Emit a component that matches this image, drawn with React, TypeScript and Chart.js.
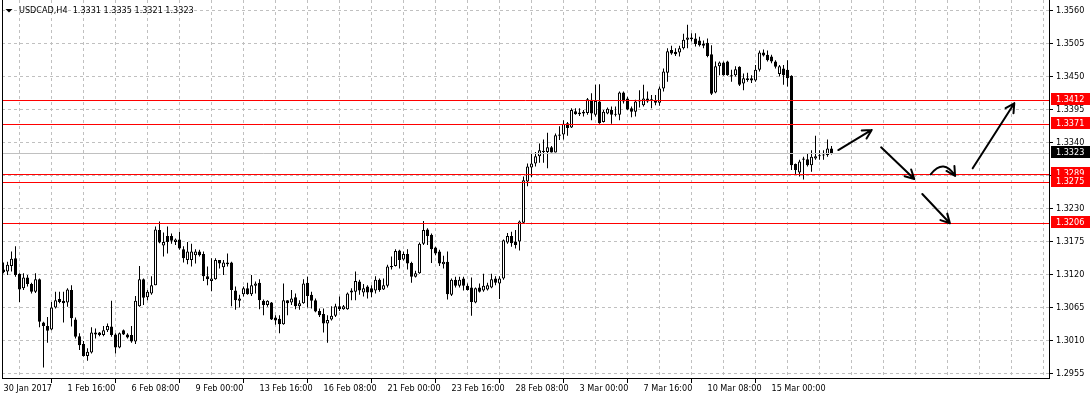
import React, { useEffect, useRef } from 'react';
import { Chart, registerables } from 'chart.js';

Chart.register(...registerables);

// ---- Data (USDCAD, H4) ----
const SYMBOL = 'USDCAD,H4';

const OPEN = [
  1.3129,1.3126,1.3135,1.3148,1.3122,1.3098,1.3116,1.3105,1.3092,1.3113,1.3041,1.3035,1.3029,1.3066,1.3080,1.3077,
  1.3074,1.3095,1.3046,1.3018,1.3005,1.2985,1.2991,1.3024,1.3024,1.3020,1.3028,1.3034,1.3021,1.2999,1.3028,1.3021,
  1.3020,1.3009,1.3068,1.3113,1.3083,1.3089,1.3103,1.3195,1.3169,1.3185,1.3185,1.3175,1.3179,1.3163,1.3145,1.3145,
  1.3153,1.3159,1.3155,1.3118,1.3110,1.3113,1.3145,1.3133,1.3138,1.3141,1.3094,1.3077,1.3088,1.3098,1.3088,1.3102,
  1.3107,1.3077,1.3070,1.3074,1.3049,1.3047,1.3038,1.3078,1.3074,1.3083,1.3068,1.3073,1.3107,1.3087,1.3078,1.3060,
  1.3055,1.3039,1.3046,1.3052,1.3068,1.3063,1.3063,1.3091,1.3092,1.3109,1.3091,1.3101,1.3098,1.3094,1.3112,1.3096,
  1.3102,1.3135,1.3135,1.3161,1.3146,1.3155,1.3140,1.3117,1.3123,1.3172,1.3196,1.3187,1.3166,1.3159,1.3138,1.3142,
  1.3087,1.3112,1.3102,1.3114,1.3102,1.3099,1.3074,1.3099,1.3094,1.3096,1.3099,1.3114,1.3106,1.3114,1.3174,1.3185,
  1.3176,1.3176,1.3207,1.3276,1.3299,1.3306,1.3318,1.3327,1.3325,1.3333,1.3324,1.3352,1.3354,1.3373,1.3366,1.3393,
  1.3388,1.3389,1.3390,1.3412,1.3387,1.3409,1.3375,1.3389,1.3395,1.3387,1.3387,1.3424,1.3414,1.3398,1.3392,1.3409,
  1.3403,1.3414,1.3413,1.3410,1.3407,1.3431,1.3457,1.3495,1.3492,1.3491,1.3498,1.3512,1.3513,1.3514,1.3511,1.3506,
  1.3507,1.3488,1.3424,1.3468,1.3474,1.3476,1.3453,1.3453,1.3467,1.3439,1.3448,1.3448,1.3444,1.3462,1.3491,1.3487,
  1.3484,1.3476,1.3455,1.3464,1.3462,1.3452,1.3305,1.3291,1.3312,1.3313,1.3303,1.3314,1.3318,1.3319,1.3320,1.3331,
];

const HIGH = [
  1.3141,1.3142,1.3159,1.3168,1.3123,1.3123,1.3120,1.3107,1.3123,1.3114,1.3042,1.3050,1.3075,1.3092,1.3092,1.3092,
  1.3098,1.3103,1.3049,1.3023,1.3010,1.2998,1.3033,1.3031,1.3025,1.3035,1.3039,1.3077,1.3023,1.3024,1.3029,1.3023,
  1.3035,1.3085,1.3135,1.3114,1.3095,1.3118,1.3201,1.3209,1.3191,1.3201,1.3189,1.3181,1.3192,1.3168,1.3175,1.3172,
  1.3163,1.3162,1.3159,1.3134,1.3148,1.3148,1.3145,1.3145,1.3156,1.3142,1.3101,1.3087,1.3101,1.3107,1.3120,1.3109,
  1.3113,1.3079,1.3078,1.3075,1.3053,1.3053,1.3106,1.3078,1.3095,1.3089,1.3078,1.3113,1.3117,1.3092,1.3081,1.3064,
  1.3064,1.3053,1.3068,1.3072,1.3084,1.3070,1.3091,1.3098,1.3126,1.3112,1.3105,1.3103,1.3103,1.3118,1.3114,1.3114,
  1.3137,1.3151,1.3163,1.3162,1.3159,1.3163,1.3142,1.3127,1.3174,1.3210,1.3198,1.3189,1.3167,1.3162,1.3152,1.3159,
  1.3114,1.3117,1.3117,1.3117,1.3106,1.3116,1.3099,1.3106,1.3122,1.3107,1.3122,1.3118,1.3118,1.3179,1.3190,1.3192,
  1.3195,1.3211,1.3284,1.3306,1.3323,1.3325,1.3339,1.3346,1.3357,1.3335,1.3356,1.3368,1.3378,1.3375,1.3398,1.3398,
  1.3398,1.3395,1.3415,1.3423,1.3437,1.3438,1.3395,1.3399,1.3401,1.3401,1.3426,1.3426,1.3417,1.3401,1.3412,1.3428,
  1.3437,1.3426,1.3420,1.3420,1.3434,1.3464,1.3498,1.3502,1.3498,1.3502,1.3522,1.3537,1.3523,1.3523,1.3517,1.3511,
  1.3514,1.3503,1.3476,1.3476,1.3476,1.3477,1.3462,1.3468,1.3468,1.3456,1.3457,1.3453,1.3470,1.3494,1.3496,1.3494,
  1.3487,1.3478,1.3470,1.3470,1.3478,1.3453,1.3306,1.3312,1.3317,1.3323,1.3328,1.3352,1.3328,1.3328,1.3346,1.3335,
];

const LOW = [
  1.3123,1.3120,1.3126,1.3117,1.3075,1.3095,1.3101,1.3089,1.3090,1.3033,1.2966,1.3007,1.3028,1.3064,1.3073,1.3041,
  1.3067,1.3034,1.3014,1.2995,1.2984,1.2977,1.2989,1.3014,1.3018,1.3018,1.3025,1.3017,1.2989,1.2998,1.3020,1.3014,
  1.3007,1.3005,1.3067,1.3070,1.3078,1.3087,1.3103,1.3173,1.3151,1.3156,1.3172,1.3170,1.3162,1.3141,1.3138,1.3134,
  1.3139,1.3151,1.3110,1.3103,1.3093,1.3112,1.3131,1.3120,1.3134,1.3068,1.3062,1.3066,1.3084,1.3087,1.3085,1.3089,
  1.3063,1.3053,1.3067,1.3045,1.3037,1.3023,1.3037,1.3053,1.3070,1.3063,1.3062,1.3072,1.3066,1.3064,1.3058,1.3050,
  1.3024,1.3007,1.3044,1.3050,1.3060,1.3062,1.3062,1.3078,1.3078,1.3087,1.3084,1.3081,1.3083,1.3089,1.3092,1.3095,
  1.3099,1.3129,1.3134,1.3131,1.3144,1.3129,1.3107,1.3116,1.3122,1.3170,1.3170,1.3140,1.3153,1.3135,1.3131,1.3079,
  1.3085,1.3099,1.3099,1.3094,1.3094,1.3052,1.3073,1.3091,1.3092,1.3094,1.3098,1.3103,1.3080,1.3112,1.3172,1.3167,
  1.3164,1.3161,1.3206,1.3268,1.3283,1.3301,1.3307,1.3307,1.3298,1.3324,1.3324,1.3345,1.3346,1.3352,1.3365,1.3387,
  1.3385,1.3384,1.3387,1.3378,1.3384,1.3372,1.3374,1.3388,1.3372,1.3384,1.3378,1.3406,1.3395,1.3383,1.3384,1.3399,
  1.3401,1.3407,1.3398,1.3403,1.3402,1.3426,1.3442,1.3487,1.3485,1.3484,1.3496,1.3498,1.3509,1.3501,1.3501,1.3498,
  1.3483,1.3420,1.3423,1.3453,1.3452,1.3452,1.3442,1.3451,1.3435,1.3428,1.3442,1.3440,1.3442,1.3459,1.3484,1.3476,
  1.3473,1.3464,1.3451,1.3437,1.3434,1.3295,1.3287,1.3284,1.3279,1.3301,1.3292,1.3312,1.3312,1.3312,1.3317,1.3321,
];

const CLOSE = [
  1.3125,1.3137,1.3147,1.3120,1.3096,1.3116,1.3105,1.3092,1.3113,1.3042,1.3035,1.3027,1.3066,1.3078,1.3075,1.3073,
  1.3096,1.3048,1.3017,1.3003,1.2985,1.2992,1.3024,1.3021,1.3020,1.3028,1.3035,1.3020,1.2999,1.3023,1.3021,1.3016,
  1.3009,1.3077,1.3113,1.3082,1.3092,1.3103,1.3196,1.3174,1.3175,1.3175,1.3177,1.3179,1.3164,1.3148,1.3159,1.3159,
  1.3159,1.3153,1.3118,1.3113,1.3114,1.3145,1.3139,1.3141,1.3141,1.3095,1.3078,1.3081,1.3098,1.3088,1.3103,1.3106,
  1.3078,1.3070,1.3077,1.3046,1.3044,1.3038,1.3078,1.3073,1.3081,1.3068,1.3073,1.3106,1.3085,1.3077,1.3059,1.3053,
  1.3039,1.3045,1.3052,1.3068,1.3063,1.3068,1.3089,1.3094,1.3110,1.3094,1.3098,1.3091,1.3091,1.3112,1.3095,1.3103,
  1.3134,1.3133,1.3160,1.3145,1.3155,1.3139,1.3117,1.3123,1.3172,1.3195,1.3185,1.3163,1.3156,1.3139,1.3142,1.3088,
  1.3112,1.3102,1.3112,1.3102,1.3095,1.3075,1.3098,1.3092,1.3102,1.3103,1.3113,1.3107,1.3114,1.3178,1.3185,1.3173,
  1.3170,1.3209,1.3278,1.3301,1.3306,1.3318,1.3328,1.3325,1.3333,1.3324,1.3353,1.3354,1.3372,1.3365,1.3395,1.3388,
  1.3391,1.3392,1.3413,1.3389,1.3410,1.3373,1.3392,1.3397,1.3387,1.3388,1.3424,1.3409,1.3396,1.3392,1.3409,1.3412,
  1.3414,1.3409,1.3410,1.3407,1.3431,1.3459,1.3493,1.3489,1.3488,1.3498,1.3512,1.3516,1.3516,1.3505,1.3503,1.3502,
  1.3485,1.3422,1.3468,1.3474,1.3453,1.3453,1.3451,1.3463,1.3437,1.3448,1.3445,1.3444,1.3462,1.3491,1.3486,1.3478,
  1.3476,1.3467,1.3468,1.3453,1.3448,1.3303,1.3295,1.3309,1.3314,1.3303,1.3317,1.3318,1.3319,1.3320,1.3331,1.3323,
];

// time labels, one every LABEL_STEP bars starting at bar 0
const X_LABELS = [
  '30 Jan 2017', '1 Feb 16:00', '6 Feb 08:00', '9 Feb 00:00', '13 Feb 16:00', '16 Feb 08:00',
  '21 Feb 00:00', '23 Feb 16:00', '28 Feb 08:00', '3 Mar 00:00', '7 Mar 16:00', '10 Mar 08:00', '15 Mar 00:00',
];
const LABEL_STEP = 16;
const GRID_STEP = 8;

const PRICE_TICKS = [1.2955, 1.3010, 1.3065, 1.3120, 1.3175, 1.3230, 1.3285, 1.3340, 1.3395, 1.3450, 1.3505, 1.3560];
const HIDDEN_PRICE_TICKS = [1.3285];

// horizontal levels (red) and bid line
const LEVELS = [1.3412, 1.3371, 1.3289, 1.3275, 1.3206];
const BID = 1.3323;

// hand-drawn arrows in (bar index, price)
const ARROWS = [
  [[208.7, 1.33283], [217.05, 1.33617]],
  [[219.4, 1.33328], [227.7, 1.32800]],
  [[242.3, 1.32978], [252.7, 1.34062]],
  [[229.7, 1.32550], [236.6, 1.32062]],
];
const CURVED_ARROW = { from: [231.8, 1.32878], ctrl: [235.1, 1.33150], to: [237.9, 1.32850] };

// ---- Styling ----
const FONT = "'DejaVu Sans Condensed', 'DejaVu Sans', sans-serif";
const FONT_SIZE = 9;
const GRID_COLOR = '#c0c0c0';
const TRANSPARENT = 'rgba(0,0,0,0)';
const HEAD_LEN = 10;
const HEAD_ANGLE = (28 * Math.PI) / 180;

const X_MIN = -0.375;
const X_MAX = 261.375;
const Y_MIN = 1.294833;
const Y_MAX = 1.357833;

const isLabelTick = (v: number) =>
  v % LABEL_STEP === 0 && v / LABEL_STEP < X_LABELS.length;

const overlayPlugin = {
  id: 'mt4Overlay',
  beforeDraw(chart: any) {
    const { ctx, width, height } = chart;
    ctx.save();
    ctx.fillStyle = '#ffffff';
    ctx.fillRect(0, 0, width, height);
    ctx.restore();
  },
  afterDatasetsDraw(chart: any) {
    const { ctx, chartArea: a, scales } = chart;
    const xs = scales.x;
    const ys = scales.y;
    ctx.save();
    ctx.lineWidth = 1;
    const hline = (p: number, color: string) => {
      const py = Math.round(ys.getPixelForValue(p)) + 0.5;
      ctx.strokeStyle = color;
      ctx.beginPath();
      ctx.moveTo(a.left, py);
      ctx.lineTo(a.right, py);
      ctx.stroke();
    };
    hline(BID, GRID_COLOR);
    LEVELS.forEach((l) => hline(l, '#ff0000'));

    const px = (pt: number[]) => [xs.getPixelForValue(pt[0]), ys.getPixelForValue(pt[1])];
    const head = (tip: number[], ang: number) => {
      for (const s of [-1, 1]) {
        const b = ang + Math.PI + s * HEAD_ANGLE;
        ctx.moveTo(tip[0], tip[1]);
        ctx.lineTo(tip[0] + HEAD_LEN * Math.cos(b), tip[1] + HEAD_LEN * Math.sin(b));
      }
    };
    ctx.strokeStyle = '#000';
    ctx.lineWidth = 2;
    ctx.lineCap = 'round';
    ctx.lineJoin = 'round';
    ARROWS.forEach(([f, t]) => {
      const p1 = px(f);
      const p2 = px(t);
      ctx.beginPath();
      ctx.moveTo(p1[0], p1[1]);
      ctx.lineTo(p2[0], p2[1]);
      head(p2, Math.atan2(p2[1] - p1[1], p2[0] - p1[0]));
      ctx.stroke();
    });
    const c1 = px(CURVED_ARROW.from);
    const cc = px(CURVED_ARROW.ctrl);
    const c2 = px(CURVED_ARROW.to);
    ctx.beginPath();
    ctx.moveTo(c1[0], c1[1]);
    ctx.quadraticCurveTo(cc[0], cc[1], c2[0], c2[1]);
    head(c2, Math.atan2(c2[1] - cc[1], c2[0] - cc[0]));
    ctx.stroke();
    ctx.restore();
  },
  afterDraw(chart: any) {
    const { ctx, chartArea: a, scales } = chart;
    const ys = scales.y;
    ctx.save();
    // left frame
    ctx.strokeStyle = '#000';
    ctx.lineWidth = 1;
    ctx.beginPath();
    ctx.moveTo(a.left + 0.5, 0);
    ctx.lineTo(a.left + 0.5, a.bottom + 0.5);
    ctx.stroke();

    // price boxes
    ctx.font = `${FONT_SIZE}px ${FONT}`;
    ctx.textBaseline = 'middle';
    ctx.textAlign = 'left';
    const box = (p: number, bg: string) => {
      const cy = Math.round(ys.getPixelForValue(p));
      ctx.fillStyle = bg;
      ctx.fillRect(a.right + 2, cy - 7, 39, 12);
      ctx.fillStyle = '#fff';
      ctx.fillText(p.toFixed(4), a.right + 7, cy - 0.5);
    };
    LEVELS.forEach((l) => box(l, '#ff0000'));
    box(BID, '#000');

    // header
    ctx.fillStyle = '#000';
    ctx.beginPath();
    ctx.moveTo(a.left + 3.5, 9);
    ctx.lineTo(a.left + 10.5, 9);
    ctx.lineTo(a.left + 7, 12.5);
    ctx.closePath();
    ctx.fill();
    const n = CLOSE.length - 1;
    const header = `${SYMBOL}  ${OPEN[n].toFixed(4)} ${HIGH[n].toFixed(4)} ${LOW[n].toFixed(4)} ${CLOSE[n].toFixed(4)}`;
    ctx.fillText(header, a.left + 17, 11);
    ctx.restore();
  },
};

export default function App() {
  const ref = useRef<HTMLCanvasElement | null>(null);

  useEffect(() => {
    if (!ref.current) return;
    Chart.defaults.font.family = FONT;
    Chart.defaults.font.size = FONT_SIZE;
    Chart.defaults.color = '#000';

    const idx = OPEN.map((_, i) => i);
    const gridTicks: { value: number }[] = [];
    for (let v = 0; v <= X_MAX; v += GRID_STEP) gridTicks.push({ value: v });

    const chart = new Chart(ref.current, {
      type: 'bar',
      data: {
        datasets: [
          {
            label: 'wicks',
            data: idx.map((i) => ({ x: i, y: [LOW[i], HIGH[i]] })) as any,
            backgroundColor: '#000',
            borderWidth: 0,
            barThickness: 1,
            inflateAmount: 0,
            minBarLength: 1,
            grouped: false,
            order: 2,
          } as any,
          {
            label: 'bodies',
            data: idx.map((i) => ({
              x: i,
              y: [Math.min(OPEN[i], CLOSE[i]), Math.max(OPEN[i], CLOSE[i])],
            })) as any,
            backgroundColor: idx.map((i) => (CLOSE[i] >= OPEN[i] ? '#ffffff' : '#000000')),
            borderColor: '#000',
            borderWidth: 1,
            borderSkipped: false,
            barThickness: 3,
            inflateAmount: 0,
            minBarLength: 1,
            grouped: false,
            order: 1,
          } as any,
        ],
      },
      options: {
        animation: false,
        responsive: false,
        maintainAspectRatio: false,
        devicePixelRatio: 1,
        events: [],
        layout: { padding: { left: 2, top: 0, right: 0, bottom: 0 } },
        plugins: { legend: { display: false }, tooltip: { enabled: false } },
        scales: {
          x: {
            type: 'linear',
            min: X_MIN,
            max: X_MAX,
            offset: false,
            afterBuildTicks: (s: any) => {
              s.ticks = gridTicks.map((t) => ({ ...t }));
            },
            afterFit: (s: any) => {
              s.height = 21;
              s.paddingLeft = 0;
              s.paddingRight = 0;
            },
            grid: {
              color: (c: any) => (c.tick && c.tick.value === 0 ? TRANSPARENT : GRID_COLOR),
              lineWidth: 1,
              drawTicks: true,
              tickLength: 5,
              tickWidth: 1,
              tickColor: (c: any) => (c.tick && isLabelTick(c.tick.value) ? '#000' : TRANSPARENT),
            },
            border: { display: true, color: '#000', width: 1, dash: [3, 3] },
            ticks: {
              autoSkip: false,
              maxRotation: 0,
              minRotation: 0,
              align: 'start',
              padding: 0,
              color: '#000',
              font: { family: FONT, size: FONT_SIZE },
              callback: (v: any) => (isLabelTick(v) ? X_LABELS[v / LABEL_STEP] : ''),
            },
          },
          y: {
            type: 'linear',
            position: 'right',
            min: Y_MIN,
            max: Y_MAX,
            afterBuildTicks: (s: any) => {
              s.ticks = PRICE_TICKS.map((v) => ({ value: v }));
            },
            afterFit: (s: any) => {
              s.width = 42;
              s.paddingTop = 0;
              s.paddingBottom = 0;
            },
            grid: {
              color: GRID_COLOR,
              lineWidth: 1,
              drawTicks: true,
              tickLength: 4,
              tickWidth: 1,
              tickColor: '#000',
            },
            border: { display: true, color: '#000', width: 1, dash: [3, 3] },
            ticks: {
              padding: 3,
              color: '#000',
              font: { family: FONT, size: FONT_SIZE },
              callback: (v: any) =>
                HIDDEN_PRICE_TICKS.some((h) => Math.abs(h - v) < 1e-7) ? '' : Number(v).toFixed(4),
            },
          },
        },
      } as any,
      plugins: [overlayPlugin],
    });

    return () => chart.destroy();
  }, []);

  return (
    <div style={{ position: 'absolute', left: 0, top: 0, width: 1091, height: 399, background: '#fff' }}>
      <canvas ref={ref} width={1091} height={399} style={{ display: 'block' }} />
    </div>
  );
}
